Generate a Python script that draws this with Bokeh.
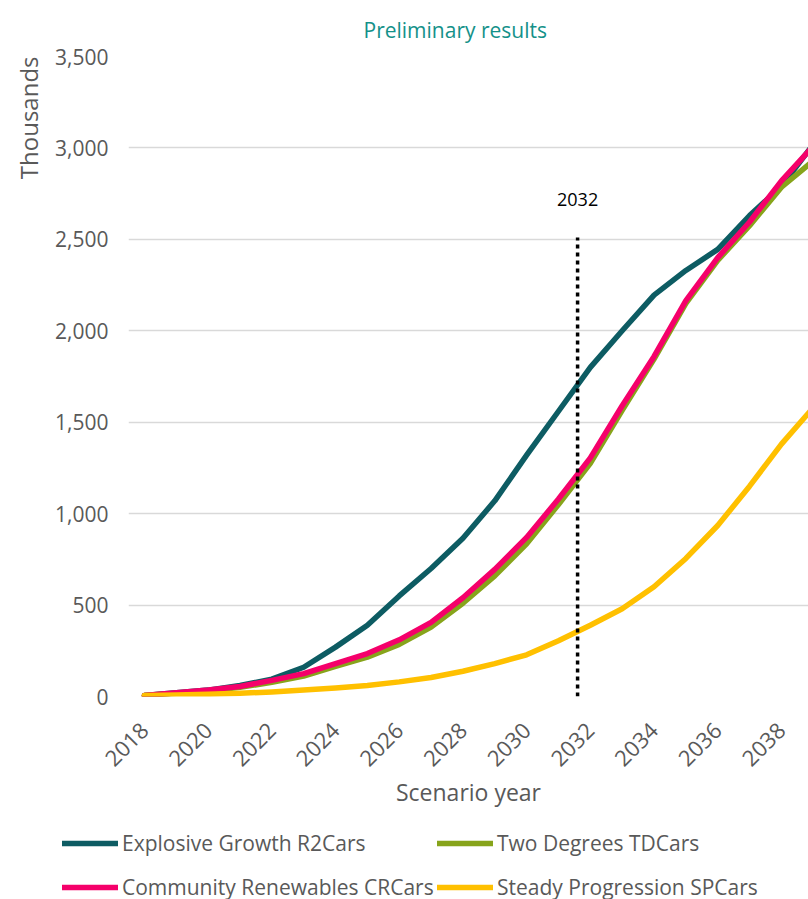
from bokeh.plotting import figure
from bokeh.layouts import column, row
from bokeh.models import (Range1d, FixedTicker, NumeralTickFormatter, Legend, LegendItem,
                          Label, ColumnDataSource, Title)
from bokeh.embed import file_html
from bokeh.resources import INLINE
import math

# ---- data (thousands of cars) ----
years = list(range(2018, 2040))
explosive_growth = [5, 20, 35, 60, 95, 160, 270, 390, 550, 700, 865, 1070, 1320, 1560, 1800,
                    2000, 2195, 2330, 2445, 2630, 2790, 3020]
two_degrees = [5, 18, 30, 50, 78, 112, 165, 215, 285, 380, 510, 660, 835, 1050, 1275,
               1565, 1845, 2150, 2385, 2575, 2785, 2930]
community_renewables = [5, 20, 35, 55, 88, 125, 180, 235, 310, 405, 540, 695, 870, 1080, 1305,
                        1590, 1860, 2165, 2400, 2595, 2820, 3010]
steady_progression = [5, 8, 12, 18, 25, 35, 47, 60, 80, 104, 138, 180, 228, 305, 390,
                      480, 600, 755, 935, 1150, 1380, 1580]

series_names = ["Explosive Growth R2Cars", "Two Degrees TDCars",
                "Community Renewables CRCars", "Steady Progression SPCars"]
series_colors = ["#0d5c63", "#87a41b", "#f5006a", "#ffc000"]

x_ticks = list(range(2018, 2039, 2))
y_ticks = list(range(0, 3501, 500))

marker_label = "2032"
marker_x = 2031.6      # visual position of the hand-drawn marker line
marker_top = 2510
marker_label_y = 2720

FONT = "Open Sans"
GREY = "#595959"

p = figure(width=808, height=815, output_backend="svg", toolbar_location=None,
           x_range=Range1d(2017.5, 2038.85), y_range=Range1d(0, 3500),
           min_border_left=128, min_border_right=0, min_border_top=56, min_border_bottom=119)
p.outline_line_color = None
p.background_fill_color = "white"
p.border_fill_color = "white"

p.title.text = "Preliminary results"
p.title.align = "left"
p.title.offset = 235
p.title.standoff = 22
p.title.vertical_align = "top"
p.title.text_color = "#149189"
p.title.text_font = FONT
p.title.text_font_size = "21px"
p.title.text_font_style = "normal"

# vertical axis title, placed at the top end like the original
p.add_layout(Title(text="Thousands", align="right", text_font=FONT, text_font_size="24px",
                   text_font_style="normal", text_color=GREY, standoff=16), "left")

# grid
p.xgrid.grid_line_color = None
p.ygrid.grid_line_color = "#d9d9d9"
p.ygrid.grid_line_width = 1.5
p.ygrid.ticker = FixedTicker(ticks=y_ticks)

# y axis
p.yaxis.ticker = FixedTicker(ticks=y_ticks)
p.yaxis.formatter = NumeralTickFormatter(format="0,0")
p.yaxis.axis_line_color = None
p.yaxis.major_tick_line_color = None
p.yaxis.minor_tick_line_color = None
p.yaxis.major_tick_out = 0
p.yaxis.major_label_standoff = 20
p.yaxis.major_label_text_font = FONT
p.yaxis.major_label_text_font_size = "21px"
p.yaxis.major_label_text_color = GREY

# x axis
p.xaxis.ticker = FixedTicker(ticks=x_ticks)
p.xaxis.axis_line_color = None
p.xaxis.major_tick_line_color = None
p.xaxis.minor_tick_line_color = None
p.xaxis.major_tick_out = 0
p.xaxis.major_label_standoff = 30
p.xaxis.major_label_orientation = math.pi / 4
p.xaxis.major_label_text_font = FONT
p.xaxis.major_label_text_font_size = "22px"
p.xaxis.major_label_text_color = GREY
p.xaxis.axis_label = "Scenario year"
p.xaxis.axis_label_text_font = FONT
p.xaxis.axis_label_text_font_size = "23px"
p.xaxis.axis_label_text_font_style = "normal"
p.xaxis.axis_label_text_color = GREY
p.xaxis.axis_label_standoff = 0

# series
renderers = []
for name, vals, col in zip(series_names,
                           [explosive_growth, two_degrees, community_renewables, steady_progression],
                           series_colors):
    src = ColumnDataSource(dict(x=years, y=vals))
    r = p.line("x", "y", source=src, line_color=col, line_width=5.5,
               line_join="round", line_cap="round")
    renderers.append(r)

# marker line
p.segment(x0=[marker_x], y0=[0], x1=[marker_x], y1=[marker_top],
          line_color="black", line_width=3.5, line_dash="4 4")
p.add_layout(Label(x=marker_x, y=marker_label_y, text=marker_label, text_align="center",
                   text_baseline="middle", text_font=FONT, text_font_size="18px",
                   text_color="black"))

# legend strip (separate figure so the legend is not clipped by the chart frame)
lf = figure(width=808, height=84, output_backend="svg", toolbar_location=None,
            x_axis_type=None, y_axis_type=None, x_range=Range1d(0, 1), y_range=Range1d(0, 1),
            min_border=0, min_border_left=0, min_border_right=0,
            min_border_top=0, min_border_bottom=0)
lf.outline_line_color = None
lf.xgrid.grid_line_color = None
lf.ygrid.grid_line_color = None
nan = float("nan")
legend_renderers = [lf.line(x=[nan], y=[nan], line_color=c, line_width=5.5, line_cap="round")
                    for c in series_colors]

def make_legend(idx, loc):
    return Legend(items=[LegendItem(label=series_names[i], renderers=[legend_renderers[i]])
                         for i in idx],
                  location=loc, orientation="vertical",
                  glyph_width=56, glyph_height=20, label_standoff=4, spacing=16,
                  padding=0, margin=0, border_line_color=None, background_fill_alpha=0,
                  label_text_font=FONT, label_text_font_size="21px", label_text_color=GREY,
                  label_height=20)

lf.add_layout(make_legend([0, 2], (62, -2)))
lf.add_layout(make_legend([1, 3], (437, -2)))

layout = column(p, row(lf), spacing=0)
open("out.html", "w").write(file_html(layout, INLINE))
